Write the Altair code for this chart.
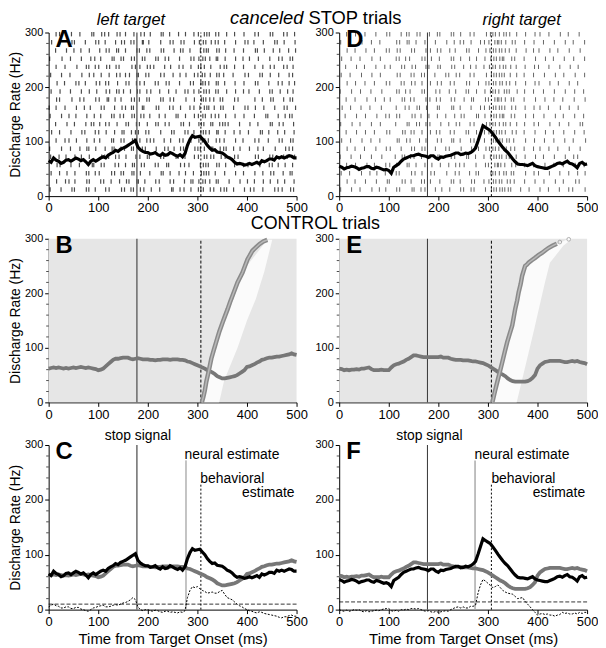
import altair as alt
import pandas as pd

# ---------------- data ----------------
X_TICKS = [0, 100, 200, 300, 400, 500]
Y_TICKS = [0, 100, 200, 300]
Y_MINOR = [20, 40, 60, 80, 120, 140, 160, 180, 220, 240, 260, 280]
T5 = list(range(0, 501, 5))          # sampling grid of the density curves (ms)

STOP_SIGNAL = 178
BEHAV_EST = 307
NEURAL_EST_LEFT = 277
NEURAL_EST_RIGHT = 274
THRESH_LEFT = 10
THRESH_RIGHT = 14

# canceled STOP trials, left target (black)
A_RATE = [65, 62, 70, 66, 64, 60, 62, 66, 67, 64,
          67, 70, 68, 65, 67, 63, 58, 64, 67, 64,
          67, 70, 72, 70, 75, 78, 80, 84, 82, 86,
          88, 90, 93, 96, 99, 102, 90, 85, 82, 80,
          80, 77, 78, 80, 76, 74, 78, 75, 76, 80,
          78, 75, 73, 76, 72, 78, 93, 104, 111, 108,
          109, 110, 105, 100, 93, 88, 84, 85, 81, 80,
          79, 76, 72, 70, 67, 62, 59, 60, 59, 57,
          58, 60, 58, 60, 62, 59, 65, 63, 65, 68,
          68, 66, 72, 70, 72, 70, 72, 74, 73, 70,
          70]
# control trials, left target (gray)
B_RATE = [62, 63, 64, 63, 64, 63, 62, 63, 62, 63,
          64, 63, 64, 65, 64, 63, 64, 63, 62, 61,
          59, 60, 62, 66, 70, 74, 78, 80, 80, 81,
          82, 82, 82, 80, 79, 80, 81, 80, 79, 79,
          79, 78, 78, 77, 78, 78, 79, 79, 79, 78,
          79, 79, 79, 78, 78, 77, 75, 74, 72, 70,
          68, 66, 64, 62, 59, 57, 55, 52, 48, 46,
          44, 44, 45, 46, 47, 48, 50, 53, 56, 59,
          65, 66, 68, 70, 73, 75, 78, 79, 81, 82,
          82, 83, 84, 84, 85, 86, 87, 88, 90, 88,
          87]
# canceled STOP trials, right target (black)
D_RATE = [55, 53, 50, 52, 53, 55, 54, 52, 49, 51,
          52, 54, 54, 51, 50, 53, 52, 50, 48, 49,
          47, 42, 53, 56, 59, 64, 68, 70, 72, 74,
          74, 76, 77, 75, 74, 73, 71, 74, 74, 70,
          68, 72, 71, 73, 74, 75, 77, 79, 79, 76,
          77, 79, 78, 80, 83, 88, 101, 115, 129, 126,
          123, 120, 114, 108, 101, 95, 89, 84, 80, 74,
          68, 63, 59, 58, 58, 57, 56, 58, 60, 56,
          54, 53, 52, 51, 51, 53, 55, 57, 60, 61,
          59, 62, 64, 60, 59, 56, 52, 60, 62, 58,
          59]
# control trials, right target (gray)
E_RATE = [62, 61, 59, 60, 59, 60, 60, 61, 60, 62,
          62, 63, 64, 61, 59, 59, 59, 60, 59, 59,
          59, 64, 68, 70, 71, 73, 75, 78, 80, 83,
          86, 86, 85, 84, 83, 83, 83, 83, 83, 83,
          83, 84, 82, 82, 82, 80, 79, 78, 78, 78,
          77, 77, 77, 76, 75, 75, 74, 73, 72, 70,
          68, 65, 62, 59, 56, 53, 51, 48, 44, 41,
          39, 38, 38, 38, 38, 38, 39, 41, 45, 50,
          62, 68, 71, 74, 75, 76, 76, 76, 76, 76,
          75, 74, 74, 75, 76, 75, 76, 74, 73, 72,
          70]
# difference functions (canceled - control)
C_DIFF = [5, 8, 10, 7, 6, 3, 3, 5, 5, 2,
          2, 4, 4, 1, 0, -2, -3, 0, 3, 4,
          6, 7, 8, 5, 5, 6, 8, 9, 8, 10,
          12, 13, 15, 18, 22, 18, 5, 0, -2, 0,
          0, -2, -3, -1, -2, -4, -5, -3, -3, -5,
          -4, -5, -6, -4, -5, -2, 22, 35, 42, 40,
          42, 38, 35, 33, 30, 31, 32, 30, 30, 33,
          35, 28, 22, 20, 18, 14, 10, 7, 5, 2,
          0, -2, -3, -5, -6, -4, -5, -7, -8, -9,
          -10, -11, -12, -14, -15, -13, -13, -11, -10, -12,
          -12]
F_DIFF = [0, -2, -3, -1, -3, -2, 0, -1, 0, -3,
          -4, -2, -4, -3, -2, -1, -2, 0, 1, 2,
          2, -2, -3, -1, -3, 0, -1, 1, 0, 2,
          2, 1, 2, 0, -2, -3, -2, -4, -5, -3,
          -5, -4, -3, -2, -3, 0, 2, 4, 5, 3,
          5, 3, 3, 6, 6, 8, 30, 45, 55, 52,
          48, 44, 40, 42, 45, 40, 35, 32, 30, 29,
          28, 24, 20, 21, 22, 15, 10, 5, 0, -5,
          -10, -8, -7, -9, -8, -10, -10, -12, -10, -9,
          -5, -7, -6, -8, -8, -6, -8, -5, -7, -5,
          -5]

# saccade times of control trials (sorted), plotted as open circles
B_SACC_X = [309, 312, 315, 318, 323, 328, 333, 338, 344, 351, 356, 361, 366,
            371, 376, 381, 386, 391, 396, 401, 406, 411, 418, 425, 433, 441]
B_SACC_Y = [0, 10, 22, 38, 58, 80, 96, 111, 129, 147, 159, 171, 184,
            196, 208, 220, 229, 238, 250, 262, 270, 278, 284, 290, 295, 298]
E_SACC_X = [309, 314, 319, 324, 329, 334, 339, 344, 349, 352, 355, 359, 362, 366,
            369, 372, 375, 379, 382, 389, 395, 402, 409, 416, 422, 430, 439]
E_SACC_Y = [0, 20, 38, 56, 74, 93, 111, 126, 141, 156, 171, 187, 202, 217,
            232, 241, 250, 253, 256, 261, 265, 270, 274, 279, 283, 287, 291]
E_SACC_EXTRA_X = [445, 463]
E_SACC_EXTRA_Y = [294, 299]

# post-saccadic silent gap in the control rasters
B_GAP_Y = [0, 40, 100, 150, 190, 240, 298]
B_GAP_LEFT = [309, 318, 337, 355, 373, 391, 441]
B_GAP_RIGHT = [344, 354, 381, 400, 418, 435, 451]
E_GAP_Y = [0, 38, 129, 220, 256, 287, 300]
E_GAP_LEFT = [309, 319, 342, 365, 382, 432, 463]
E_GAP_RIGHT = [358, 368, 392, 415, 425, 452, 470]

# raster rows (trial index drawn on the Hz scale) and spike codes per 10 ms bin
# digit = one spike at that ms offset in the bin, letter = two spikes
RASTER_ROW_Y = [12, 27, 42, 57, 72, 87, 102, 117, 132, 147,
                162, 177, 192, 207, 222, 237, 252, 267, 282, 297]
DOUBLE = {"a": (1, 6), "b": (2, 7), "c": (3, 8), "d": (4, 9), "e": (0, 5)}
A_RASTER = [
    "3050720614 0520736152 7040815370 b2637d0305 7402063184",
    "0604130720 5160372814 0630520471 3a58204060 1503702605",
    "5027030614 2073618250 4071503602 8c36050703 0602840371",
    "0730502081 6204159373 0518206430 6b29470503 2060513702",
    "4015036020 7315260649 3062071504 2d73860520 0730620416",
    "2060403715 0482637195 0704136205 a4816c0360 5023070852",
    "0503160702 3071629348 5203604170 3e28540702 0640305183",
    "6020507304 1603827516 2060830513 7b49260460 3071402605",
    "0407020561 3528061739 0615307240 c3715a2050 6020715304",
    "3060150702 5072418362 4035071604 2a86370604 0508203761",
    "1503060240 6203857192 0720416053 5d34720306 2704060518",
    "0620703105 2814607338 3061520704 8b53610520 0601830472",
    "5030406027 0637215948 6040270513 3c47290703 4050617023",
    "0702051406 3519062743 0517304062 7a38250604 0720403156",
    "4060307021 6027453816 2063015704 1e69430206 3061704052",
    "0503070614 1736208549 5204603170 b4706d0503 0602750413",
    "2070406053 5082617394 0615204073 3a58160702 5030604172",
    "0406015020 3627150838 4072036150 6c29470403 0715036048",
    "6030720405 1405736291 2060517304 4b86250706 2403061507",
    "0520603071 7318450263 5071402603 2d47390504 0630720416",
]
D_RASTER = [
    "3050206014 0620715304 7030516205 7bd4a06030 5020403106",
    "0602030507 1073506240 3061407302 2ac9530405 0306020740",
    "4010502603 0510637052 0704203610 6e3b720603 2040503016",
    "0503060104 2607150370 4015320605 1da4860402 0503020604",
    "2040305060 0372416039 2063071502 5bc7370506 0204060310",
    "0602010405 3050627304 0520607316 3e2b640302 5030104060",
    "5030604020 0716302508 6071405203 7ad8320604 0403050207",
    "0405030106 2083517046 3042061703 2bc5970305 0602030504",
    "3060205030 0407162530 5016304207 4e3a580403 2050403061",
    "0205030604 1620735018 0503620714 6bd2740602 0306020503",
    "6030402050 0503172608 2071406053 3ac4860503 5020604020",
    "0402060301 3072410536 4063027105 1db5720306 0503010406",
    "2050304060 0614307205 3025061704 5e2c390402 0204060503",
    "0603020105 2051637048 6042073016 2ad7460605 3050204010",
    "4020506030 0730516203 0516304207 7bc3580302 0406030605",
    "0305010402 3062740519 4073015602 3e4a670504 2030506020",
    "5040206030 0514207360 2061503704 6bd2840306 0602040305",
    "0602040105 1730620548 5034072016 4ac5370702 3050104060",
    "3010605020 0627150304 0702416053 2db6950403 0204060205",
    "0503020406 2056173028 3061504207 5e3b480605 5030602040",
]

# ---------------- helpers ----------------
FONT = "Liberation Sans"
XS = alt.Scale(domain=[0, 500], nice=False, zero=False)
YS = alt.Scale(domain=[0, 300], nice=False, zero=False)
W, H = 250, 165


def axes(xtitle, ytitle):
    ax = alt.Axis(values=X_TICKS, title=xtitle, labelFontSize=13, titleFontSize=15,
                  titlePadding=3, tickSize=4, labelPadding=2, grid=False,
                  labelFlush=False, labelOverlap=False)
    ay = alt.Axis(values=Y_TICKS, title=ytitle, labelFontSize=11, titleFontSize=14,
                  titlePadding=2, tickSize=4, labelPadding=2, grid=False,
                  labelFlush=False, labelOverlap=False)
    return ax, ay


def XY(ax, ay, xf="t", yf="v"):
    return dict(x=alt.X(f"{xf}:Q", scale=XS, axis=ax), y=alt.Y(f"{yf}:Q", scale=YS, axis=ay))


def raster_df(rows):
    recs = []
    for yv, s in zip(RASTER_ROW_Y, rows):
        s = s.replace(" ", "")
        for i, ch in enumerate(s):
            base = 10 * i
            if ch in "123456789":
                recs.append({"t": base + int(ch), "v": yv})
            elif ch in DOUBLE:
                a, b = DOUBLE[ch]
                recs.append({"t": base + a, "v": yv})
                recs.append({"t": base + b, "v": yv})
    return pd.DataFrame(recs)


def line(vals, ax, ay, **kw):
    return alt.Chart(pd.DataFrame({"t": T5, "v": vals})).mark_line(**kw).encode(**XY(ax, ay))


def vrule(x, top, ax, ay, **kw):
    df = pd.DataFrame({"t": [x], "v": [0], "v2": [top]})
    return alt.Chart(df).mark_rule(**kw).encode(**XY(ax, ay), y2="v2:Q")


def hrule(y, ax, ay, **kw):
    df = pd.DataFrame({"t": [0], "t2": [500], "v": [y]})
    return alt.Chart(df).mark_rule(**kw).encode(**XY(ax, ay), x2="t2:Q")


def text(label, x, y, ax, ay, **kw):
    df = pd.DataFrame({"t": [x], "v": [y], "label": [label]})
    return alt.Chart(df).mark_text(font=FONT, baseline="middle", color="black", **kw).encode(
        **XY(ax, ay), text="label:N")


def letter(ch, ax, ay):
    return text(ch, 14, 287, ax, ay, align="left", fontSize=24, fontWeight="bold")


def minor_ticks(ax, ay):
    df = pd.DataFrame({"t": [0] * len(Y_MINOR), "v": Y_MINOR})
    return alt.Chart(df).mark_tick(orient="horizontal", size=2.5, thickness=1, color="black",
                                   xOffset=-1.25).encode(**XY(ax, ay))


def stipple(gy, gl, gr, ax, ay):
    bg = alt.Chart(pd.DataFrame({"t": [0], "t2": [500], "v": [0], "v2": [300]})).mark_rect(
        color="#e6e6e6").encode(**XY(ax, ay), x2="t2:Q", y2="v2:Q")
    gap = alt.Chart(pd.DataFrame({"v": gy, "t": gl, "t2": gr})).mark_area(
        orient="horizontal", color="#fbfbfb").encode(**XY(ax, ay), x2="t2:Q")
    return [bg, gap]


def saccades(xs, ys, ax, ay):
    df = pd.DataFrame({"t": xs, "v": ys})
    outer = alt.Chart(df).mark_line(color="#8a8a8a", strokeWidth=4.5).encode(**XY(ax, ay))
    inner = alt.Chart(df).mark_line(color="#b8b8b8", strokeWidth=1.5).encode(**XY(ax, ay))
    return [outer, inner]


BLACK_LINE = dict(color="black", strokeWidth=3.2)
GRAY_LINE = dict(color="#777777", strokeWidth=3.8)
STOP_RULE = dict(color="#555555", strokeWidth=1.3)
DOT_RULE = dict(color="black", strokeWidth=1, strokeDash=[2, 2])
DASH_RULE = dict(color="black", strokeWidth=1, strokeDash=[3, 2])

# ---------------- panel A ----------------
ax, ay = axes(None, "Discharge Rate (Hz)")
pA = alt.layer(
    alt.Chart(raster_df(A_RASTER)).mark_tick(orient="vertical", size=4.5, thickness=1.2,
                                              color="black").encode(**XY(ax, ay)),
    minor_ticks(ax, ay),
    vrule(STOP_SIGNAL, 300, ax, ay, **STOP_RULE),
    vrule(BEHAV_EST, 300, ax, ay, **DOT_RULE),
    line(A_RATE, ax, ay, **BLACK_LINE),
    letter("A", ax, ay),
    text("left target", 166, 322, ax, ay, align="center", fontSize=16.5, fontStyle="italic"),
    text("canceled", 514, 327, ax, ay, align="right", fontSize=18.5, fontStyle="italic"),
    text("STOP trials", 524, 327, ax, ay, align="left", fontSize=18.5),
).properties(width=W, height=H)

# ---------------- panel D ----------------
ax, ay = axes(None, None)
pD = alt.layer(
    alt.Chart(raster_df(D_RASTER)).mark_tick(orient="vertical", size=4.5, thickness=1,
                                              color="#222222").encode(**XY(ax, ay)),
    minor_ticks(ax, ay),
    vrule(STOP_SIGNAL, 300, ax, ay, color="#333333", strokeWidth=1),
    vrule(BEHAV_EST, 300, ax, ay, **DOT_RULE),
    line(D_RATE, ax, ay, **BLACK_LINE),
    letter("D", ax, ay),
    text("right target", 368, 322, ax, ay, align="center", fontSize=16.5, fontStyle="italic"),
).properties(width=W, height=H)

# ---------------- panel B ----------------
ax, ay = axes(None, "Discharge Rate (Hz)")
pB = alt.layer(
    *stipple(B_GAP_Y, B_GAP_LEFT, B_GAP_RIGHT, ax, ay),
    minor_ticks(ax, ay),
    vrule(STOP_SIGNAL, 300, ax, ay, **STOP_RULE),
    vrule(BEHAV_EST, 300, ax, ay, **DASH_RULE),
    line(B_RATE, ax, ay, **GRAY_LINE),
    *saccades(B_SACC_X, B_SACC_Y, ax, ay),
    letter("B", ax, ay),
    text("CONTROL trials", 538, 326.5, ax, ay, align="center", fontSize=18),
).properties(width=W, height=H)

# ---------------- panel E ----------------
ax, ay = axes(None, None)
pE = alt.layer(
    *stipple(E_GAP_Y, E_GAP_LEFT, E_GAP_RIGHT, ax, ay),
    minor_ticks(ax, ay),
    vrule(STOP_SIGNAL, 300, ax, ay, color="#333333", strokeWidth=1),
    vrule(BEHAV_EST, 300, ax, ay, **DASH_RULE),
    line(E_RATE, ax, ay, **GRAY_LINE),
    *saccades(E_SACC_X, E_SACC_Y, ax, ay),
    alt.Chart(pd.DataFrame({"t": E_SACC_EXTRA_X, "v": E_SACC_EXTRA_Y})).mark_point(
        shape="circle", filled=False, size=14, color="#888888", strokeWidth=0.9).encode(**XY(ax, ay)),
    letter("E", ax, ay),
).properties(width=W, height=H)

# ---------------- panel C ----------------
ax, ay = axes("Time from Target Onset (ms)", "Discharge Rate (Hz)")
pC = alt.layer(
    minor_ticks(ax, ay),
    vrule(STOP_SIGNAL, 300, ax, ay, **STOP_RULE),
    vrule(NEURAL_EST_LEFT, 272, ax, ay, color="#888888", strokeWidth=1),
    vrule(BEHAV_EST, 228, ax, ay, **DOT_RULE),
    hrule(THRESH_LEFT, ax, ay, color="black", strokeWidth=0.8, strokeDash=[4, 2]),
    line(B_RATE, ax, ay, **GRAY_LINE),
    line(A_RATE, ax, ay, **BLACK_LINE),
    line(C_DIFF, ax, ay, color="black", strokeWidth=1, strokeDash=[2, 1.5]),
    letter("C", ax, ay),
    text("stop signal", 180, 316, ax, ay, align="center", fontSize=14),
    text("neural estimate", 274, 282, ax, ay, align="left", fontSize=14),
    text("behavioral", 306, 238, ax, ay, align="left", fontSize=14),
    text("estimate", 496, 212, ax, ay, align="right", fontSize=14),
).properties(width=W, height=H + 1)

# ---------------- panel F ----------------
ax, ay = axes("Time from Target Onset (ms)", None)
pF = alt.layer(
    minor_ticks(ax, ay),
    vrule(STOP_SIGNAL, 300, ax, ay, color="#333333", strokeWidth=1),
    vrule(NEURAL_EST_RIGHT, 272, ax, ay, color="#aaaaaa", strokeWidth=1.5),
    vrule(BEHAV_EST, 228, ax, ay, **DOT_RULE),
    hrule(THRESH_RIGHT, ax, ay, color="black", strokeWidth=0.8, strokeDash=[4, 2]),
    line(E_RATE, ax, ay, **GRAY_LINE),
    line(D_RATE, ax, ay, **BLACK_LINE),
    line(F_DIFF, ax, ay, color="black", strokeWidth=1, strokeDash=[2, 1.5]),
    letter("F", ax, ay),
    text("stop signal", 182, 316, ax, ay, align="center", fontSize=14),
    text("neural estimate", 273, 282, ax, ay, align="left", fontSize=14),
    text("behavioral", 307, 238, ax, ay, align="left", fontSize=14),
    text("estimate", 496, 212, ax, ay, align="right", fontSize=14),
).properties(width=W, height=H + 1)

chart = alt.concat(pA, pD, pB, pE, pC, pF, columns=2, spacing=43, bounds="flush").properties(
    padding={"left": 0, "top": -2, "right": 0, "bottom": 0}
).configure(font=FONT).configure_view(stroke=None).configure_axis(
    domainColor="black", tickColor="black", labelColor="black", titleColor="black",
    labelFont=FONT, titleFont=FONT, titleFontWeight="normal", domainWidth=1, tickWidth=1
)

chart.save("out.html", embed_options={"renderer": "svg", "actions": False})
